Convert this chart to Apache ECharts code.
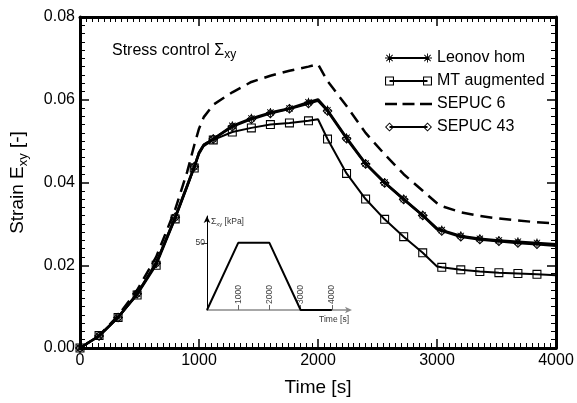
<!DOCTYPE html>
<html><head><meta charset="utf-8">
<script src="https://cdn.jsdelivr.net/npm/echarts@6/dist/echarts.min.js"></script>
<style>html,body{margin:0;padding:0;background:#fff}#c{width:577px;height:403px}</style>
</head><body><div id="c"></div>
<script>
// ---- data ----
const times = [0,160,320,480,640,800,900,960,1000,1040,1120,1280,1440,1600,1760,1920,2000,2080,2240,2400,2560,2720,2880,3000,3040,3200,3360,3520,3680,3840,4000];
const leonovHom = [0,0.0029,0.0074,0.0131,0.0205,0.0316,0.0392,0.0438,0.0472,0.0491,0.0505,0.0537,0.0555,0.0569,0.0579,0.0594,0.0601,0.0575,0.0508,0.0446,0.0400,0.0360,0.0321,0.0289,0.0285,0.0271,0.0264,0.0260,0.0257,0.0254,0.0251];
const mtAugmented = [0,0.0030,0.0074,0.0128,0.0200,0.0312,0.0388,0.0435,0.0468,0.0488,0.0503,0.0522,0.0532,0.0540,0.0544,0.0549,0.0553,0.0505,0.0422,0.0360,0.0311,0.0269,0.0230,0.0197,0.0195,0.0189,0.0185,0.0182,0.0180,0.0178,0.0176];
const sepuc6 = [0,0.0030,0.0078,0.0140,0.0220,0.0335,0.0425,0.0490,0.0530,0.0558,0.0588,0.0618,0.0643,0.0658,0.0670,0.0680,0.0686,0.0645,0.0585,0.0520,0.0468,0.0420,0.0380,0.0350,0.0343,0.0328,0.0319,0.0313,0.0308,0.0304,0.0301];
const sepuc43 = [0,0.0029,0.0074,0.0131,0.0205,0.0316,0.0392,0.0438,0.0472,0.0491,0.0505,0.0535,0.0553,0.0567,0.0578,0.0591,0.0598,0.0573,0.0506,0.0445,0.0399,0.0359,0.0320,0.0287,0.0283,0.0269,0.0262,0.0258,0.0254,0.0251,0.0247];
const seriesNames = ['Leonov hom','MT augmented','SEPUC 6','SEPUC 43'];
const xTicks = [0,1000,2000,3000,4000];
const yTicks = [0,0.02,0.04,0.06,0.08];
// inset: applied stress history
const stressTimes = [0,1000,2000,3000,4000];
const stressValues = [0,50,50,0,0];
const insetTimeTicks = [1000,2000,3000,4000];
const insetStressTicks = [50];

// ---- symbol shapes (filled paths) ----
function sqPath(ox, oy, s) {
  const t = s * 0.12;
  return `M${ox} ${oy}L${ox+s} ${oy}L${ox+s} ${oy+s}L${ox} ${oy+s}Z` +
         `M${ox+t} ${oy+t}L${ox+t} ${oy+s-t}L${ox+s-t} ${oy+s-t}L${ox+s-t} ${oy+t}Z`;
}
function diaPath(ox, oy, s) {
  const h = s / 2, t = s * 0.15;
  return `M${ox+h} ${oy}L${ox+s} ${oy+h}L${ox+h} ${oy+s}L${ox} ${oy+h}Z` +
         `M${ox+h} ${oy+t}L${ox+t} ${oy+h}L${ox+h} ${oy+s-t}L${ox+s-t} ${oy+h}Z`;
}
function starPath(ox, oy, s) {
  const k = s / 10;
  const P = (x, y) => `${(ox + x * k).toFixed(2)} ${(oy + y * k).toFixed(2)}`;
  return `M${P(0,4.5)}L${P(10,4.5)}L${P(10,5.5)}L${P(0,5.5)}Z` +
         `M${P(4.5,0)}L${P(5.5,0)}L${P(5.5,10)}L${P(4.5,10)}Z` +
         `M${P(1.15,1.85)}L${P(1.85,1.15)}L${P(8.85,8.15)}L${P(8.15,8.85)}Z` +
         `M${P(8.15,1.15)}L${P(8.85,1.85)}L${P(1.85,8.85)}L${P(1.15,8.15)}Z`;
}
function bar(x0, x1, y, th) {
  return `M${x0} ${y-th/2}L${x1} ${y-th/2}L${x1} ${y+th/2}L${x0} ${y+th/2}Z`;
}
const LW = 47, LS = 9;
const legendIcon = (fn) => 'path://' + fn(0, 0, LS) + bar(LS/2, LW - LS/2, LS/2, 2) + fn(LW - LS, 0, LS);
const dashIcon = 'path://' + bar(0, 12, 4.5, 2.5) + bar(17.5, 29.5, 4.5, 2.5) + bar(35, 47, 4.5, 2.5) + 'M0 0L0.01 0L0.01 0.01Z M0 9L0.01 9L0.01 8.99Z';

const markerEvery = 160;
const mk = (shape) => (v) => (v[0] % markerEvery === 0 && v[0] < 4000) ? 'path://' + shape(0, 0, 10) : 'none';
const pairs = (arr) => times.map((t, i) => [t, arr[i]]);

const FONT = 'Liberation Sans, Arial, Helvetica, sans-serif';

function mainX(pos, labels) {
  return {
    type: 'value', gridIndex: 0, position: pos, min: xTicks[0], max: xTicks[xTicks.length-1], interval: 1000,
    axisLine: { show: true, onZero: false, lineStyle: { color: '#000', width: 3 } },
    axisTick: { show: true, inside: true, length: 9, lineStyle: { color: '#000', width: 1.5 } },
    minorTick: { show: true, splitNumber: 20, length: 5, lineStyle: { color: '#000', width: 1 } },
    splitLine: { show: false },
    axisLabel: { show: labels, color: '#000', fontSize: 16, margin: 5, fontFamily: FONT, formatter: v => String(v) },
    name: labels ? 'Time [s]' : '', nameLocation: 'middle', nameGap: 30,
    nameTextStyle: { fontSize: 19, color: '#000', fontFamily: FONT }
  };
}
function mainY(pos, labels) {
  return {
    type: 'value', gridIndex: 0, position: pos, min: yTicks[0], max: yTicks[yTicks.length-1], interval: 0.02,
    axisLine: { show: true, onZero: false, lineStyle: { color: '#000', width: 3 } },
    axisTick: { show: true, inside: true, length: 9, lineStyle: { color: '#000', width: 1.5 } },
    minorTick: { show: true, splitNumber: 10, length: 5, lineStyle: { color: '#000', width: 1 } },
    splitLine: { show: false },
    axisLabel: { show: labels, color: '#000', fontSize: 16, margin: 5, fontFamily: FONT, formatter: v => v.toFixed(2) },
    name: labels ? '{a|Strain E}{s|xy}{a| [-]}' : '', nameLocation: 'middle', nameGap: 50,
    nameTextStyle: { color: '#000', fontFamily: FONT,
      rich: { a: { fontSize: 19, color: '#000', fontFamily: FONT, lineHeight: 24 },
              s: { fontSize: 13, color: '#000', fontFamily: FONT, verticalAlign: 'bottom', lineHeight: 24 } } }
  };
}

const chart = echarts.init(document.getElementById('c'), null, { renderer: 'canvas' });
const option = {
  animation: false,
  backgroundColor: '#fff',
  textStyle: { fontFamily: FONT },
  title: {
    text: '{a|Stress control Σ}{s|xy}', left: 107, top: 36,
    textStyle: { fontWeight: 'normal', rich: {
      a: { fontSize: 16, color: '#000', fontFamily: FONT, fontWeight: 'normal', lineHeight: 20 },
      s: { fontSize: 12, color: '#000', fontFamily: FONT, fontWeight: 'normal', verticalAlign: 'bottom', lineHeight: 20 } } }
  },
  legend: {
    orient: 'vertical', left: 380, top: 45, itemWidth: LW, itemHeight: LS, itemGap: 7,
    textStyle: { fontSize: 16, color: '#000', fontFamily: FONT },
    itemStyle: { color: '#000', borderWidth: 0 },
    selectedMode: false,
    data: [
      { name: seriesNames[0], icon: legendIcon(starPath) },
      { name: seriesNames[1], icon: legendIcon(sqPath) },
      { name: seriesNames[2], icon: dashIcon },
      { name: seriesNames[3], icon: legendIcon(diaPath) }
    ]
  },
  grid: [
    { left: 80, right: 21, top: 17, bottom: 55, outerBoundsMode: 'none' },
    { left: 207, top: 216, width: 142, height: 94, outerBoundsMode: 'none' }
  ],
  xAxis: [
    mainX('bottom', true), mainX('top', false),
    { type: 'value', gridIndex: 1, min: 0, max: 4550,
      axisLine: { show: true, onZero: false, symbol: ['none', 'arrow'], symbolSize: [5, 7], symbolOffset: [0, 3],
                  lineStyle: { color: '#8a8a8a', width: 1.6 } },
      axisTick: { show: true, inside: true, length: 5, customValues: insetTimeTicks, lineStyle: { color: '#666', width: 1 } },
      axisLabel: { inside: true, rotate: 90, customValues: insetTimeTicks, fontSize: 8.5, color: '#444', margin: 6, fontFamily: FONT, formatter: v => String(v) },
      splitLine: { show: false },
      name: 'Time [s]', nameLocation: 'end', nameGap: 0,
      nameTextStyle: { align: 'right', verticalAlign: 'top', padding: [5, 0, 0, 0], fontSize: 8.5, color: '#333', fontFamily: FONT } }
  ],
  yAxis: [
    mainY('left', true), mainY('right', false),
    { type: 'value', gridIndex: 1, min: 0, max: 70,
      axisLine: { show: true, onZero: false, symbol: ['none', 'arrow'], symbolSize: [5, 7], lineStyle: { color: '#000', width: 1 } },
      axisTick: { show: true, inside: false, length: 5, customValues: insetStressTicks, lineStyle: { color: '#333', width: 1 } },
      axisLabel: { customValues: insetStressTicks, fontSize: 8.5, color: '#333', margin: 2, fontFamily: FONT },
      splitLine: { show: false },
      name: '{a|Σ}{s|xy}{a| [kPa]}', nameLocation: 'end', nameGap: 0,
      nameTextStyle: { align: 'left', verticalAlign: 'top', padding: [0, 0, 0, 4],
        rich: { a: { fontSize: 8.5, color: '#333', fontFamily: FONT, lineHeight: 11 },
                s: { fontSize: 6, color: '#333', fontFamily: FONT, verticalAlign: 'bottom', lineHeight: 11 } } } }
  ],
  series: [
    { name: seriesNames[1], type: 'line', xAxisIndex: 0, yAxisIndex: 0, data: pairs(mtAugmented),
      symbol: mk(sqPath), symbolSize: 9, showAllSymbol: true,
      lineStyle: { color: '#000', width: 2 }, itemStyle: { color: '#000', borderWidth: 0 }, z: 3 },
    { name: seriesNames[2], type: 'line', xAxisIndex: 0, yAxisIndex: 0, data: pairs(sepuc6),
      symbol: 'none', lineStyle: { color: '#000', width: 2.5, type: [12, 7] }, itemStyle: { color: '#000' }, z: 3 },
    { name: seriesNames[3], type: 'line', xAxisIndex: 0, yAxisIndex: 0, data: pairs(sepuc43),
      symbol: mk(diaPath), symbolSize: 10, showAllSymbol: true,
      lineStyle: { color: '#000', width: 2.5 }, itemStyle: { color: '#000', borderWidth: 0 }, z: 4 },
    { name: seriesNames[0], type: 'line', xAxisIndex: 0, yAxisIndex: 0, data: pairs(leonovHom),
      symbol: mk(starPath), symbolSize: 9, showAllSymbol: true,
      lineStyle: { color: '#000', width: 2.5 }, itemStyle: { color: '#000', borderWidth: 0 }, z: 5 },
    { name: 'Σxy', type: 'line', xAxisIndex: 2, yAxisIndex: 2, data: stressTimes.map((t, i) => [t, stressValues[i]]),
      symbol: 'none', lineStyle: { color: '#000', width: 2 }, z: 6 }
  ]
};
chart.setOption(option);
</script>
</body></html>
